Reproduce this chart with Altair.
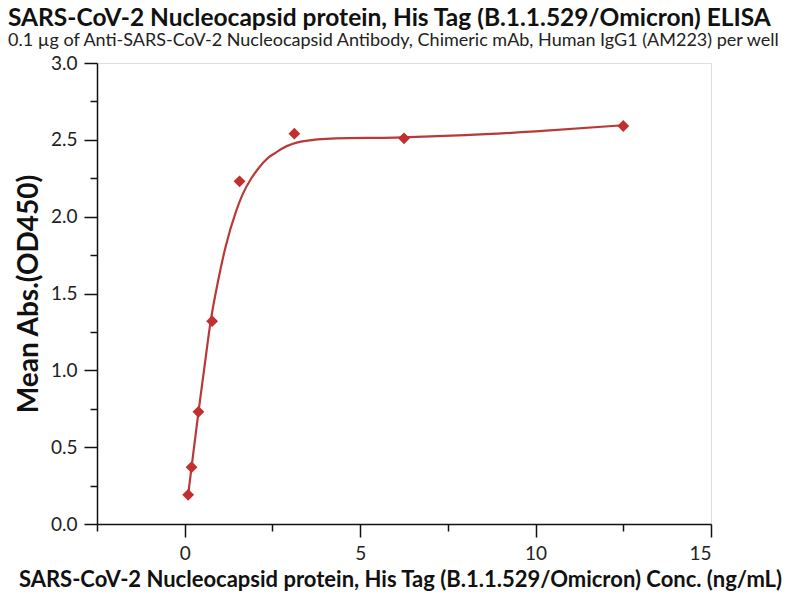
import altair as alt
import pandas as pd

conc = [0.098, 0.195, 0.391, 0.781, 1.5625, 3.125, 6.25, 12.5]
od = [0.19, 0.37, 0.73, 1.32, 2.23, 2.54, 2.51, 2.59]

fit_x = [0.098, 0.195, 0.39, 0.55, 0.74, 0.95, 1.16, 1.47, 1.66, 1.9, 2.11, 2.4, 2.6, 2.78, 3.35, 4.3, 6.0, 8.0, 10.0, 12.5]
fit_y = [0.19, 0.37, 0.725, 1.00, 1.32, 1.58, 1.80, 2.04, 2.15, 2.25, 2.317, 2.387, 2.417, 2.444, 2.49, 2.51, 2.515, 2.53, 2.555, 2.595]

x_major = [0, 5, 10, 15]
x_minor = [-2.5, 2.5, 7.5, 12.5]
y_major = [0.0, 0.5, 1.0, 1.5, 2.0, 2.5, 3.0]
y_minor = [0.25, 0.75, 1.25, 1.75, 2.25, 2.75]

title = "SARS-CoV-2 Nucleocapsid protein, His Tag (B.1.1.529/Omicron) ELISA"
subtitle = "0.1 \u00b5g of Anti-SARS-CoV-2 Nucleocapsid Antibody, Chimeric mAb, Human IgG1 (AM223) per well"
x_title = "SARS-CoV-2 Nucleocapsid protein, His Tag (B.1.1.529/Omicron) Conc. (ng/mL)"
y_title = "Mean Abs.(OD450)"

pts = pd.DataFrame({"x": conc, "y": od})
fit = pd.DataFrame({"x": fit_x, "y": fit_y})

FONT = "Lato"
RED = "#C0302E"
LINE = "#B83A38"

xs = alt.Scale(domain=[-2.5, 15], nice=False, zero=False)
ys = alt.Scale(domain=[0, 3], nice=False, zero=False)

x_axis = alt.Axis(values=x_major, tickSize=13, labelFontSize=19, labelFont=FONT,
                  labelColor="#222", domainColor="#111", tickColor="#111",
                  domainWidth=1.5, tickWidth=1.5, grid=False, labelPadding=7,
                  title=x_title, titleFont=FONT, titleFontSize=22, titleFontWeight="bold",
                  titleColor="#111", titleY=55, titleX=303, titleBaseline="middle", format="d")
y_axis = alt.Axis(values=y_major, tickSize=13, labelFontSize=19, labelFont=FONT,
                  labelColor="#222", domainColor="#111", tickColor="#111",
                  domainWidth=1.5, tickWidth=1.5, grid=False, labelPadding=7,
                  title=y_title, titleFont=FONT, titleFontSize=28, titleFontWeight="bold",
                  titleColor="#111", titleX=-68, titleBaseline="middle", format=".1f")

line = alt.Chart(fit).mark_line(color=LINE, strokeWidth=2.2, interpolate="monotone").encode(
    x=alt.X("x:Q", scale=xs, axis=x_axis),
    y=alt.Y("y:Q", scale=ys, axis=y_axis),
)

minor_x_axis = alt.Axis(values=x_minor, tickSize=7, labels=False, domain=False, grid=False,
                        title=None, tickColor="#111", tickWidth=1.5, orient="bottom")
minor_y_axis = alt.Axis(values=y_minor, tickSize=7, labels=False, domain=False, grid=False,
                        title=None, tickColor="#111", tickWidth=1.5, orient="left")

points = alt.Chart(pts).mark_point(shape="diamond", filled=True, size=140, color=RED, opacity=1).encode(
    x=alt.X("x:Q", scale=xs, axis=minor_x_axis),
    y=alt.Y("y:Q", scale=ys, axis=minor_y_axis),
)

chart = alt.layer(line, points).resolve_axis(x="independent", y="independent").properties(
    width=614,
    height=461,
    autosize=alt.AutoSizeParams(type="none"),
    padding={"left": 89, "top": 55, "right": 81, "bottom": 68},
    title=alt.TitleParams(text=title, subtitle=subtitle, anchor="start", frame="group",
                          dx=-89, font=FONT, fontSize=24.5, fontWeight="bold", color="#111",
                          subtitleFont=FONT, subtitleFontSize=18, subtitleColor="#222",
                          subtitlePadding=1, offset=3),
).configure_view(stroke=None).configure(background="white")

chart.save("out.html", embed_options={"renderer": "svg", "actions": False})
